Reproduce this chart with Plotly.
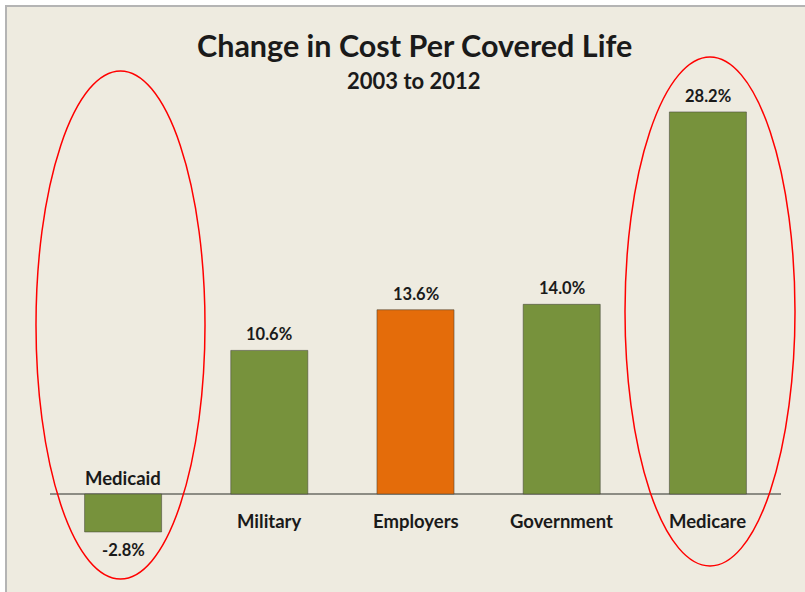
import plotly.graph_objects as go

categories = ["Medicaid", "Military", "Employers", "Government", "Medicare"]
values = [-2.8, 10.6, 13.6, 14.0, 28.2]
bar_colors = ["#77923C", "#77923C", "#E46C0A", "#77923C", "#77923C"]
value_labels = ["-2.8%", "10.6%", "13.6%", "14.0%", "28.2%"]
title_text = "Change in Cost Per Covered Life"
subtitle_text = "2003 to 2012"

W, H = 805, 592
ML, MR, MT, MB = 50, 24, 90, 32
PW, PH = W - ML - MR, H - MT - MB
YR = [-4.87, 29.82]

def px_x(p):
    return (p - ML) / PW

def px_y(p):
    return (H - MB - p) / PH

FONT = "Lato, Calibri, Carlito, sans-serif"
TXT = "#1a1a1a"

fig = go.Figure(go.Bar(
    x=list(range(len(categories))),
    y=values,
    marker=dict(color=bar_colors, line=dict(color="rgba(70,70,60,0.55)", width=1)),
    width=0.527,
    hoverinfo="skip",
))

annotations = []
for i, (v, lab, cat) in enumerate(zip(values, value_labels, categories)):
    if v >= 0:
        annotations.append(dict(x=i, y=v, xref="x", yref="y", text="<b>%s</b>" % lab,
                                showarrow=False, yanchor="bottom", yshift=4,
                                font=dict(size=16.5, color=TXT, family=FONT)))
        annotations.append(dict(x=i, y=0, xref="x", yref="y", text="<b>%s</b>" % cat,
                                showarrow=False, yanchor="middle", yshift=-27,
                                font=dict(size=18.5, color=TXT, family=FONT)))
    else:
        annotations.append(dict(x=i, y=v, xref="x", yref="y", text="<b>%s</b>" % lab,
                                showarrow=False, yanchor="top", yshift=-6,
                                font=dict(size=16.5, color=TXT, family=FONT)))
        annotations.append(dict(x=i, y=0, xref="x", yref="y", text="<b>%s</b>" % cat,
                                showarrow=False, yanchor="middle", yshift=16,
                                font=dict(size=18.5, color=TXT, family=FONT)))

annotations.append(dict(x=px_x(414), y=px_y(45), xref="paper", yref="paper",
                        text="<b>%s</b>" % title_text, showarrow=False,
                        xanchor="center", yanchor="middle",
                        font=dict(size=30.5, color=TXT, family=FONT)))
annotations.append(dict(x=px_x(414), y=px_y(80), xref="paper", yref="paper",
                        text="<b>%s</b>" % subtitle_text, showarrow=False,
                        xanchor="center", yanchor="middle",
                        font=dict(size=22, color=TXT, family=FONT)))

shapes = [
    dict(type="rect", xref="paper", yref="paper", layer="below",
         x0=px_x(6), x1=px_x(820), y0=px_y(6), y1=px_y(610),
         fillcolor="#EEEBE0", line=dict(color="#B4B4B4", width=2)),
    dict(type="circle", xref="paper", yref="paper",
         x0=px_x(36), x1=px_x(205), y0=px_y(71), y1=px_y(579),
         line=dict(color="#FF0000", width=1.5)),
    dict(type="circle", xref="paper", yref="paper",
         x0=px_x(625), x1=px_x(795), y0=px_y(57), y1=px_y(566),
         line=dict(color="#FF0000", width=1.5)),
]

fig.update_layout(
    width=W, height=H,
    margin=dict(l=ML, r=MR, t=MT, b=MB),
    paper_bgcolor="white",
    plot_bgcolor="rgba(0,0,0,0)",
    showlegend=False,
    hovermode=False,
    annotations=annotations,
    shapes=shapes,
    xaxis=dict(range=[-0.5, 4.5], showticklabels=False, showgrid=False,
               zeroline=False, showline=False, ticks="", fixedrange=True),
    yaxis=dict(range=YR, showticklabels=False, showgrid=False, zeroline=True,
               zerolinecolor="#8C8C84", zerolinewidth=1.5, showline=False, ticks="",
               fixedrange=True),
)

fig.write_html("out.html",
               config={"displayModeBar": False, "staticPlot": True},
               post_script="document.body.style.margin='0px';document.body.style.overflow='hidden';")
